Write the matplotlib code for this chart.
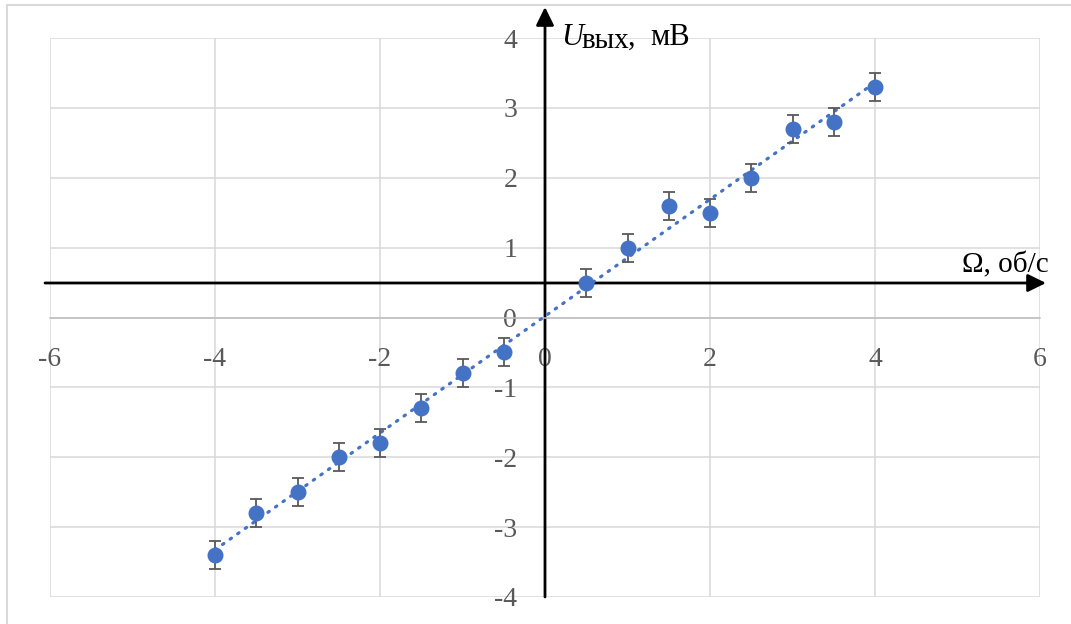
import numpy as np
import matplotlib
matplotlib.use('Agg')
import matplotlib.pyplot as plt
from matplotlib.patches import Rectangle

# measured points: rotation speed (rev/s) vs output voltage (mV)
omega = [-4, -3.5, -3, -2.5, -2, -1.5, -1, -0.5, 0.5, 1, 1.5, 2, 2.5, 3, 3.5, 4]
u_out = [-3.4, -2.8, -2.5, -2.0, -1.8, -1.3, -0.8, -0.5, 0.5, 1.0, 1.6, 1.5, 2.0, 2.7, 2.8, 3.3]
u_err = 0.2

x_ticks = [-6, -4, -2, 0, 2, 4, 6]
y_ticks = [-4, -3, -2, -1, 0, 1, 2, 3, 4]

BLUE = '#4472C4'
GREY_TXT = '#595959'
GRID = '#D9D9D9'

plt.rcParams['font.family'] = ['Liberation Serif', 'DejaVu Serif']
plt.rcParams['axes.unicode_minus'] = False

W, H = 1071, 624
fig = plt.figure(figsize=(W / 100, H / 100), dpi=100)
ax = fig.add_axes([50 / W, 1 - 597 / H, 990 / W, 559 / H])

ax.set_xlim(-6, 6)
ax.set_ylim(-4, 4)
ax.set_xticks(x_ticks)
ax.set_yticks(y_ticks)
ax.set_xticklabels([str(t) for t in x_ticks])
ax.set_yticklabels([str(t) for t in y_ticks])
ax.grid(True, color=GRID, lw=1.1)
ax.set_axisbelow(True)

for side in ['top', 'right']:
    ax.spines[side].set_visible(False)
ax.spines['left'].set_position('zero')
ax.spines['bottom'].set_position('zero')
ax.spines['bottom'].set_color('#BFBFBF')
ax.spines['bottom'].set_linewidth(1.1)
ax.spines['left'].set_visible(False)
ax.tick_params(length=0, labelsize=20, labelcolor=GREY_TXT)
ax.tick_params(axis='x', pad=21)
ax.tick_params(axis='y', pad=20)

# linear trend line
k, b = np.polyfit(omega, u_out, 1)
xs = np.array([min(omega), max(omega)])
ax.plot(xs, k * xs + b, color=BLUE, lw=2.3, linestyle=(0, (0.5, 2.4)),
        dash_capstyle='round', zorder=3)

ax.errorbar(omega, u_out, yerr=u_err, fmt='o', color=BLUE, markersize=10.5,
            ecolor=GREY_TXT, elinewidth=1.3, capsize=4.5, capthick=1.3, zorder=4)

# hand-drawn style axes with arrows
head = '-|>,head_length=0.55,head_width=0.27'
ax.annotate('', xy=(545, H - 7), xytext=(545, H - 597), xycoords='figure pixels',
            textcoords='figure pixels', annotation_clip=False, zorder=2,
            arrowprops=dict(arrowstyle=head, lw=2, color='black',
                            shrinkA=0, shrinkB=0, mutation_scale=20))
ax.annotate('', xy=(1046, H - 283), xytext=(45, H - 283), xycoords='figure pixels',
            textcoords='figure pixels', annotation_clip=False, zorder=2,
            arrowprops=dict(arrowstyle=head, lw=2, color='black',
                            shrinkA=0, shrinkB=0, mutation_scale=20))

# axis captions
fig.text(561 / W, 1 - 45 / H, 'U', fontsize=22, style='italic', va='baseline')
fig.text(582 / W, 1 - 48 / H, 'вых', fontsize=21, va='baseline')
fig.text(628 / W, 1 - 45 / H, ',', fontsize=22, va='baseline')
fig.text(650 / W, 1 - 45 / H, 'мВ', fontsize=22, va='baseline')
fig.text(962 / W, 1 - 272 / H, 'Ω, об/с', fontsize=21, va='baseline')

# outer chart border (partly cropped)
fig.patches.append(Rectangle((7, -20), 1200, H - 5 + 20, transform=None,
                             fill=False, edgecolor=GRID, lw=1.5))

fig.savefig('out.png', dpi=100)
